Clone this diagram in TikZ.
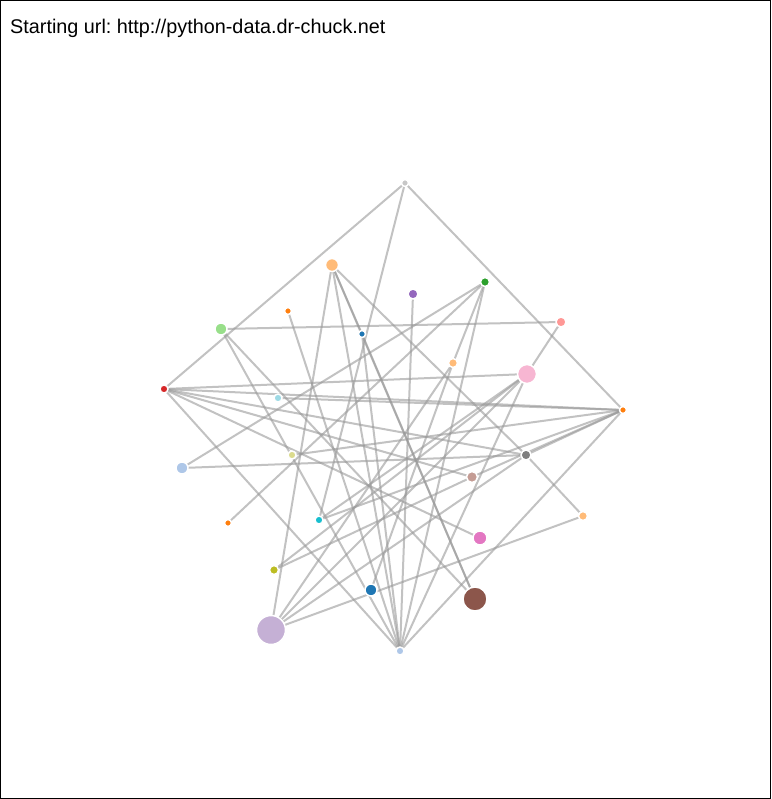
\documentclass[tikz,border=0pt]{standalone}
\usepackage{fontspec}
\setmainfont{Liberation Sans}
\frenchspacing
\pgfdeclarelayer{bg}
\pgfsetlayers{bg,main}
\definecolor{cA}{HTML}{1F77B4}
\definecolor{cB}{HTML}{AEC7E8}
\definecolor{cC}{HTML}{FF7F0E}
\definecolor{cD}{HTML}{FFBB78}
\definecolor{cE}{HTML}{2CA02C}
\definecolor{cF}{HTML}{98DF8A}
\definecolor{cG}{HTML}{D62728}
\definecolor{cH}{HTML}{FF9896}
\definecolor{cI}{HTML}{9467BD}
\definecolor{cJ}{HTML}{C5B0D5}
\definecolor{cK}{HTML}{8C564B}
\definecolor{cL}{HTML}{C49C94}
\definecolor{cM}{HTML}{E377C2}
\definecolor{cN}{HTML}{F7B6D2}
\definecolor{cO}{HTML}{7F7F7F}
\definecolor{cP}{HTML}{C7C7C7}
\definecolor{cQ}{HTML}{BCBD22}
\definecolor{cR}{HTML}{DBDB8D}
\definecolor{cS}{HTML}{17BECF}
\definecolor{cT}{HTML}{9EDAE5}
\definecolor{linkgray}{HTML}{999999}
\begin{document}
\begin{tikzpicture}[x=1pt,y=-1pt,
  nd/.style 2 args={circle, inner sep=0pt, draw=white, line width=1.5pt, fill=#1, minimum size=#2},
  lnk/.style={draw=linkgray, line width=2pt, draw opacity=0.6}]
\useasboundingbox (0,0) rectangle (771,799);
\draw[black, line width=1pt] (0.5,0.5) rectangle (770.5,798.5);
\node[anchor=base west, inner sep=0pt, font=\fontsize{19.8}{24}\selectfont] (title) at (10,34) {Starting url: http://python-data.dr-chuck.net};
% nodes
\node[nd={cP}{7pt}] (T) at (405,183) {};
\node[nd={cD}{13pt}] (O2) at (332,265) {};
\node[nd={cI}{10pt}] (P3) at (413,294) {};
\node[nd={cE}{9pt}] (G4) at (485,282) {};
\node[nd={cF}{12pt}] (LG5) at (221,329) {};
\node[nd={cC}{7pt}] (OR6) at (288,311) {};
\node[nd={cA}{7pt}] (B7) at (362,334) {};
\node[nd={cH}{10pt}] (PK8) at (561,322) {};
\node[nd={cD}{9pt}] (LO9) at (453,363) {};
\node[nd={cN}{19pt}] (PL10) at (527,374) {};
\node[nd={cG}{8pt}] (R11) at (164,389) {};
\node[nd={cT}{8pt}] (LB12) at (278,398) {};
\node[nd={cC}{7pt}] (OR13) at (623,410) {};
\node[nd={cB}{12pt}] (LB14) at (182,468) {};
\node[nd={cR}{8pt}] (Y15) at (292,455) {};
\node[nd={cO}{10pt}] (G16) at (526,455) {};
\node[nd={cL}{11pt}] (BR17) at (472,477) {};
\node[nd={cC}{7pt}] (OR18) at (228,523) {};
\node[nd={cS}{8pt}] (C19) at (319,520) {};
\node[nd={cD}{9pt}] (LO20) at (583,516) {};
\node[nd={cM}{14pt}] (PI21) at (480,538) {};
\node[nd={cQ}{9pt}] (OL22) at (274,570) {};
\node[nd={cA}{12pt}] (B23) at (371,590) {};
\node[nd={cK}{24pt}] (BR24) at (475,599) {};
\node[nd={cJ}{29pt}] (PU25) at (271,630) {};
\node[nd={cB}{8pt}] (BL26) at (400,651) {};
% links
\begin{pgfonlayer}{bg}
\foreach \a/\b in {T/R11, T/OR13, T/C19,
  O2/PU25, O2/BL26, O2/B7, O2/BR24, B7/BR24, B7/BL26, O2/G16, G16/LO20,
  P3/BL26, G4/LB14, G4/OR18, G4/LO9, G4/BL26,
  LG5/PK8, LG5/BR24, LG5/BL26, OR6/BL26, PK8/PL10,
  LO9/PU25, LO9/B23,
  PL10/R11, PL10/C19, PL10/OL22, PL10/PU25, PL10/BL26,
  R11/OR13, R11/G16, R11/BR17, R11/PI21, R11/BL26,
  LB12/OR13, OR13/Y15, OR13/G16, OR13/BR17, OR13/C19, OR13/BL26,
  LB14/G16, OL22/BR17, PU25/LO20, PU25/G16}
  \draw[lnk] (\a.center) -- (\b.center);
\end{pgfonlayer}
\end{tikzpicture}
\end{document}
